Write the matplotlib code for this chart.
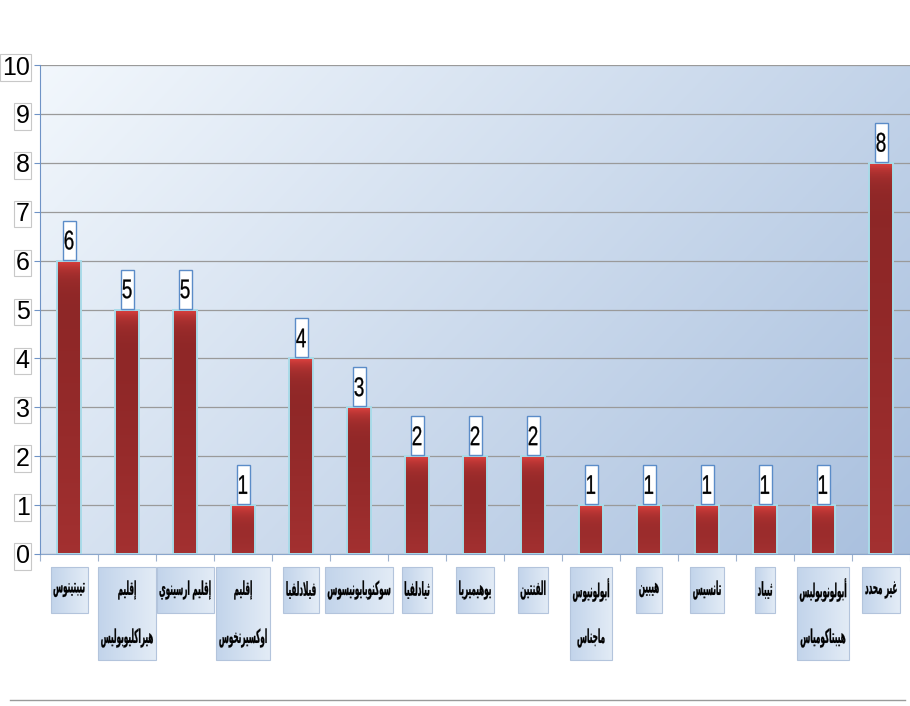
import numpy as np
import matplotlib
matplotlib.use("Agg")
import matplotlib.pyplot as plt
from matplotlib.lines import Line2D
from matplotlib.textpath import TextPath
from matplotlib.patches import PathPatch, Rectangle
from matplotlib.font_manager import FontProperties
from matplotlib.transforms import Affine2D, IdentityTransform

# data
labels = ["تيبتينوس", "إقليم\nهيراكليوبوليس", "إقليم ارسينوي", "إقليم\nاوكسيرنخوس",
          "فيلادلفيا", "سوكنوبايونيسوس", "ثيادلفيا", "يوهيميريا", "الفنتين",
          "أبولونيوس\nماجناس", "هيبين", "تانسيس", "ثيباد",
          "أبولونوبوليس\nهيبتاكومياس", "غير محدد"]
values = [6, 5, 5, 1, 4, 3, 2, 2, 2, 1, 1, 1, 1, 1, 8]
yticks = list(range(0, 11))

# --- tiny arabic shaper (matplotlib has no shaping / bidi) ---
forms = {'ء': (0xFE80, 1), 'آ': (0xFE81, 2), 'أ': (0xFE83, 2), 'ؤ': (0xFE85, 2),
         'إ': (0xFE87, 2), 'ئ': (0xFE89, 4), 'ا': (0xFE8D, 2), 'ب': (0xFE8F, 4),
         'ة': (0xFE93, 2), 'ت': (0xFE95, 4), 'ث': (0xFE99, 4), 'ج': (0xFE9D, 4),
         'ح': (0xFEA1, 4), 'خ': (0xFEA5, 4), 'د': (0xFEA9, 2), 'ذ': (0xFEAB, 2),
         'ر': (0xFEAD, 2), 'ز': (0xFEAF, 2), 'س': (0xFEB1, 4), 'ش': (0xFEB5, 4),
         'ص': (0xFEB9, 4), 'ض': (0xFEBD, 4), 'ط': (0xFEC1, 4), 'ظ': (0xFEC5, 4),
         'ع': (0xFEC9, 4), 'غ': (0xFECD, 4), 'ف': (0xFED1, 4), 'ق': (0xFED5, 4),
         'ك': (0xFED9, 4), 'ل': (0xFEDD, 4), 'م': (0xFEE1, 4), 'ن': (0xFEE5, 4),
         'ه': (0xFEE9, 4), 'و': (0xFEED, 2), 'ى': (0xFEEF, 2), 'ي': (0xFEF1, 4)}
lamalef = {'آ': 0xFEF5, 'أ': 0xFEF7, 'إ': 0xFEF9, 'ا': 0xFEFB}


def shape_line(s):
    out = []
    i = 0
    while i < len(s):
        c = s[i]
        if c not in forms:
            out.append(c)
            i += 1
            continue
        prev = s[i - 1] if i > 0 else ''
        pj = prev in forms and forms[prev][1] == 4 and len(out) > 0 and out[-1] != ' '
        if c == 'ل' and i + 1 < len(s) and s[i + 1] in lamalef:
            out.append(chr(lamalef[s[i + 1]] + (1 if pj else 0)))
            i += 2
            continue
        nxt = s[i + 1] if i + 1 < len(s) else ''
        nj = nxt in forms and nxt != 'ء' and forms[c][1] == 4
        base, n = forms[c]
        if pj and nj:
            k = 3
        elif nj:
            k = 2
        elif pj:
            k = 1
        else:
            k = 0
        out.append(chr(base + k))
        i += 1
    return ''.join(out)[::-1]


def squeezed_text(s, cx, cy, size, sx, prop, zorder=10):
    # text drawn as a path so it can be narrowed like the original
    tp = TextPath((0, 0), s, size=size, prop=prop)
    ext = tp.get_extents()
    tr = Affine2D().translate(-(ext.x0 + ext.x1) / 2, -(ext.y0 + ext.y1) / 2).scale(sx, 1).translate(cx, cy)
    p = PathPatch(tr.transform_path(tp), transform=IdentityTransform(),
                  facecolor='black', edgecolor='black', lw=0.2, zorder=zorder)
    fig.add_artist(p)
    return (ext.x1 - ext.x0) * sx


fig = plt.figure(figsize=(9.1, 7.06), dpi=100)
ax = fig.add_axes([0.044, 0.2153, 0.956, 0.6926])

# background gradient
gx, gy = np.meshgrid(np.linspace(0, 1, 300), np.linspace(1, 0, 300))
s = 0.65 * gx + 0.35 * (1 - gy)
c0 = np.array([0.95, 0.97, 0.99])
c1 = np.array([0.66, 0.75, 0.87])
bg = c0 + (c1 - c0) * s[..., None]
ax.imshow(bg, extent=[0, 1, 0, 1], transform=ax.transAxes, aspect='auto', zorder=0)

x = np.arange(len(values))
bars = ax.bar(x, values, width=0.41, facecolor='none', edgecolor='#a9dbe9', linewidth=1.4, zorder=3)

dark = np.array([0.55, 0.15, 0.15])
low = np.array([0.64, 0.19, 0.19])
light = np.array([0.88, 0.26, 0.25])
for b, v in zip(bars, values):
    yy = np.linspace(v, 0, 200)
    hl = np.exp(-(v - yy) / 0.22)[:, None]
    t = ((1 - yy / max(v, 1)) ** 1.5)[:, None]
    base = dark + (low - dark) * t
    col = base + (light - base) * hl
    img = np.repeat(col[:, None, :], 2, axis=1)
    im = ax.imshow(img, extent=[b.get_x(), b.get_x() + b.get_width(), 0, v],
                   aspect='auto', zorder=2)
    im.set_clip_path(b)

ax.set_xlim(-0.5, len(values) - 0.5)
ax.set_ylim(0, 10)
ax.set_yticks(yticks)
ax.set_yticklabels([str(t) for t in yticks], fontsize=18, family='Liberation Sans')
for t in ax.get_yticklabels():
    t.set_bbox(dict(boxstyle='square,pad=0.05', facecolor='white', edgecolor='#c8c8c8', lw=0.8))
ax.set_xticks(np.arange(len(values) + 1) - 0.5)
ax.set_xticklabels([])
ax.tick_params(axis='y', length=4, color='#6f93c6', pad=3.5)
ax.tick_params(axis='x', length=5, color='#9fb3cf')
ax.yaxis.grid(True, color='#9a9a9a', lw=0.9, zorder=1)
ax.set_axisbelow(True)
for sp in ['top', 'right']:
    ax.spines[sp].set_visible(False)
ax.spines['left'].set_color('#6f93c6')
ax.spines['bottom'].set_color('#8aa6cc')
ax.spines['left'].set_zorder(4)

# value labels above bars
num_prop = FontProperties(family='Liberation Sans')
for xi, v in zip(x, values):
    px, py = ax.transData.transform((xi, v))
    fig.add_artist(Rectangle((px - 6.5, py + 1), 13, 39, transform=IdentityTransform(),
                             facecolor='white', edgecolor='#5b8cc8', lw=1, zorder=9))
    squeezed_text(str(v), px, py + 20.5, 27, 0.7, num_prop)

# category labels in gradient boxes under the axis
ar_prop = FontProperties(family='DejaVu Sans', weight='bold')
box_grad = np.linspace(0, 1, 50)[None, :, None]
box_img = np.array([0.76, 0.83, 0.92]) + (np.array([0.89, 0.925, 0.965]) - np.array([0.76, 0.83, 0.92])) * box_grad
for xi, lab in zip(x, labels):
    px, py = ax.transData.transform((xi, 0))
    lines = lab.split('\n')
    widths = []
    for k, line in enumerate(lines):
        widths.append(squeezed_text(shape_line(line), px, py - 36 - 48 * k, 19, 0.38, ar_prop))
    w = max(widths) + 6
    h = 46 + 47 * (len(lines) - 1)
    ax.imshow(np.repeat(box_img, 2, axis=0), extent=[px - w / 2, px + w / 2, py - 13 - h, py - 13],
              transform=IdentityTransform(), aspect='auto', clip_on=False, zorder=8)
    fig.add_artist(Rectangle((px - w / 2, py - 13 - h), w, h, transform=IdentityTransform(),
                             facecolor='none', edgecolor='#b3c4dc', lw=0.8, zorder=9))

ax.set_xlim(-0.5, len(values) - 0.5)
ax.set_ylim(0, 10)

fig.add_artist(Line2D([10 / 910, 905 / 910], [6 / 706, 6 / 706], color='#9a9a9a', lw=1))

fig.savefig("out.png", dpi=100)
